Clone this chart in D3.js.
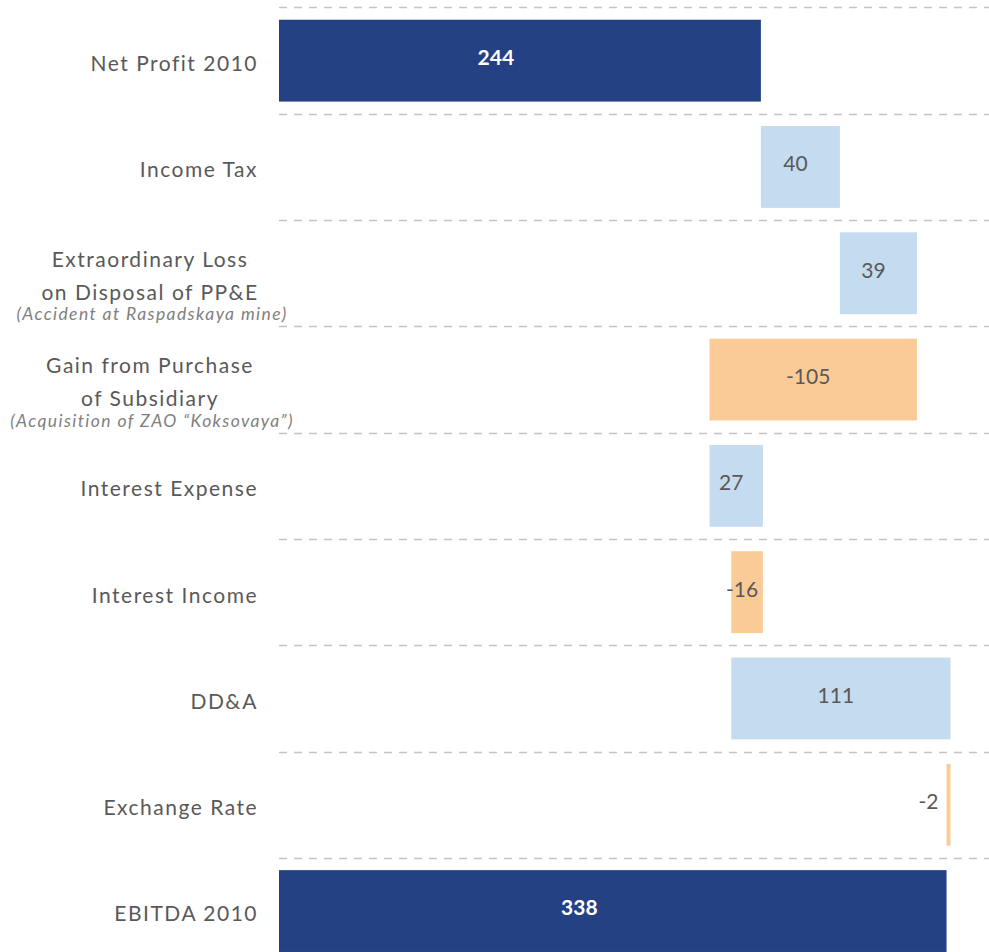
<!DOCTYPE html>
<html>
<head>
<meta charset="utf-8">
<script src="https://cdn.jsdelivr.net/npm/d3@7"></script>
<style>
  html, body { margin: 0; padding: 0; background: #fff; }
  svg { display: block; }
</style>
</head>
<body>
<svg id="chart" width="989" height="952"></svg>
<script>
const categories = ["Net Profit 2010", "Income Tax", "Extraordinary Loss", "Gain from Purchase", "Interest Expense", "Interest Income", "DD&A", "Exchange Rate", "EBITDA 2010"];
const labelLines = [
  ["Net Profit 2010"],
  ["Income Tax"],
  ["Extraordinary Loss", "on Disposal of PP&E"],
  ["Gain from Purchase", "of Subsidiary"],
  ["Interest Expense"],
  ["Interest Income"],
  ["DD&A"],
  ["Exchange Rate"],
  ["EBITDA 2010"]
];
const subLabels = ["", "", "(Accident at Raspadskaya mine)", "(Acquisition of ZAO \u201cKoksovaya\u201d)", "", "", "", "", ""];
const values = [244, 40, 39, -105, 27, -16, 111, -2, 338];
const kinds = ["total", "delta", "delta", "delta", "delta", "delta", "delta", "delta", "total"];

const colors = { total: "#244183", up: "#C5DBF0", down: "#FBCB97" };

// build waterfall segments
let running = 0;
const bars = categories.map((c, i) => {
  let x0, x1, type;
  if (kinds[i] === "total") {
    x0 = 0; x1 = values[i]; running = values[i]; type = "total";
  } else {
    x0 = running; x1 = running + values[i]; running = x1;
    type = values[i] >= 0 ? "up" : "down";
  }
  return { cat: c, value: values[i], lo: Math.min(x0, x1), hi: Math.max(x0, x1), type, i };
});

const svg = d3.select("#chart");
const x = d3.scaleLinear().domain([0, 360]).range([279, 990]);
const step = 106.3;
const y = d3.scaleBand().domain(categories)
  .range([7.5, 7.5 + categories.length * step])
  .paddingInner(0.23).paddingOuter(0.115);

// dashed gridlines between rows
const gridY = categories.map((c, i) => y(c) - y.step() * y.paddingInner() / 2);
svg.append("g").selectAll("line").data(gridY).join("line")
  .attr("x1", 279).attr("x2", 989)
  .attr("y1", d => Math.round(d) + 0.5).attr("y2", d => Math.round(d) + 0.5)
  .attr("stroke", "#C4C4C4").attr("stroke-width", 1.5)
  .attr("stroke-dasharray", "8,7");

// bars
svg.append("g").selectAll("rect").data(bars).join("rect")
  .attr("x", d => x(d.lo))
  .attr("width", d => Math.max(3, x(d.hi) - x(d.lo)))
  .attr("y", d => y(d.cat))
  .attr("height", y.bandwidth())
  .attr("fill", d => colors[d.type]);

// value labels
const isThin = d => (x(d.hi) - x(d.lo)) < 15;
svg.append("g").selectAll("text").data(bars).join("text")
  .attr("x", d => {
    const w = x(d.hi) - x(d.lo);
    if (isThin(d)) return x(d.lo) - 8;
    const mid = (x(d.lo) + x(d.hi)) / 2;
    return d.type === "total" ? mid - w * 0.05 : mid - 5;
  })
  .attr("y", d => y(d.cat) + y.bandwidth() / 2 - 3)
  .attr("dy", "0.35em")
  .attr("text-anchor", d => isThin(d) ? "end" : "middle")
  .attr("font-family", "Lato, 'Open Sans', sans-serif")
  .attr("font-size", 21)
  .attr("font-weight", d => d.type === "total" ? "bold" : "normal")
  .attr("fill", d => d.type === "total" ? "#ffffff" : "#595959")
  .text(d => d.value);

// category labels
const lab = svg.append("g").attr("font-family", "Lato, 'Open Sans', sans-serif").attr("fill", "#595959");
categories.forEach((c, i) => {
  const cy = y(c) + y.bandwidth() / 2;
  const lines = labelLines[i];
  if (lines.length === 1) {
    lab.append("text")
      .attr("x", 258).attr("y", cy + 3).attr("dy", "0.35em")
      .attr("text-anchor", "end")
      .attr("font-size", 21).attr("letter-spacing", 1.5)
      .text(lines[0]);
  } else {
    lines.forEach((t, k) => {
      lab.append("text")
        .attr("x", 150).attr("y", cy - 14 + k * 33).attr("dy", "0.35em")
        .attr("text-anchor", "middle")
        .attr("font-size", 21).attr("letter-spacing", 1.5)
        .text(t);
    });
    lab.append("text")
      .attr("x", 152).attr("y", cy + 41).attr("dy", "0.35em")
      .attr("text-anchor", "middle")
      .attr("font-size", 17.5).attr("font-style", "italic").attr("letter-spacing", 1.4)
      .attr("fill", "#7F7F7F")
      .text(subLabels[i]);
  }
});
</script>
</body>
</html>
